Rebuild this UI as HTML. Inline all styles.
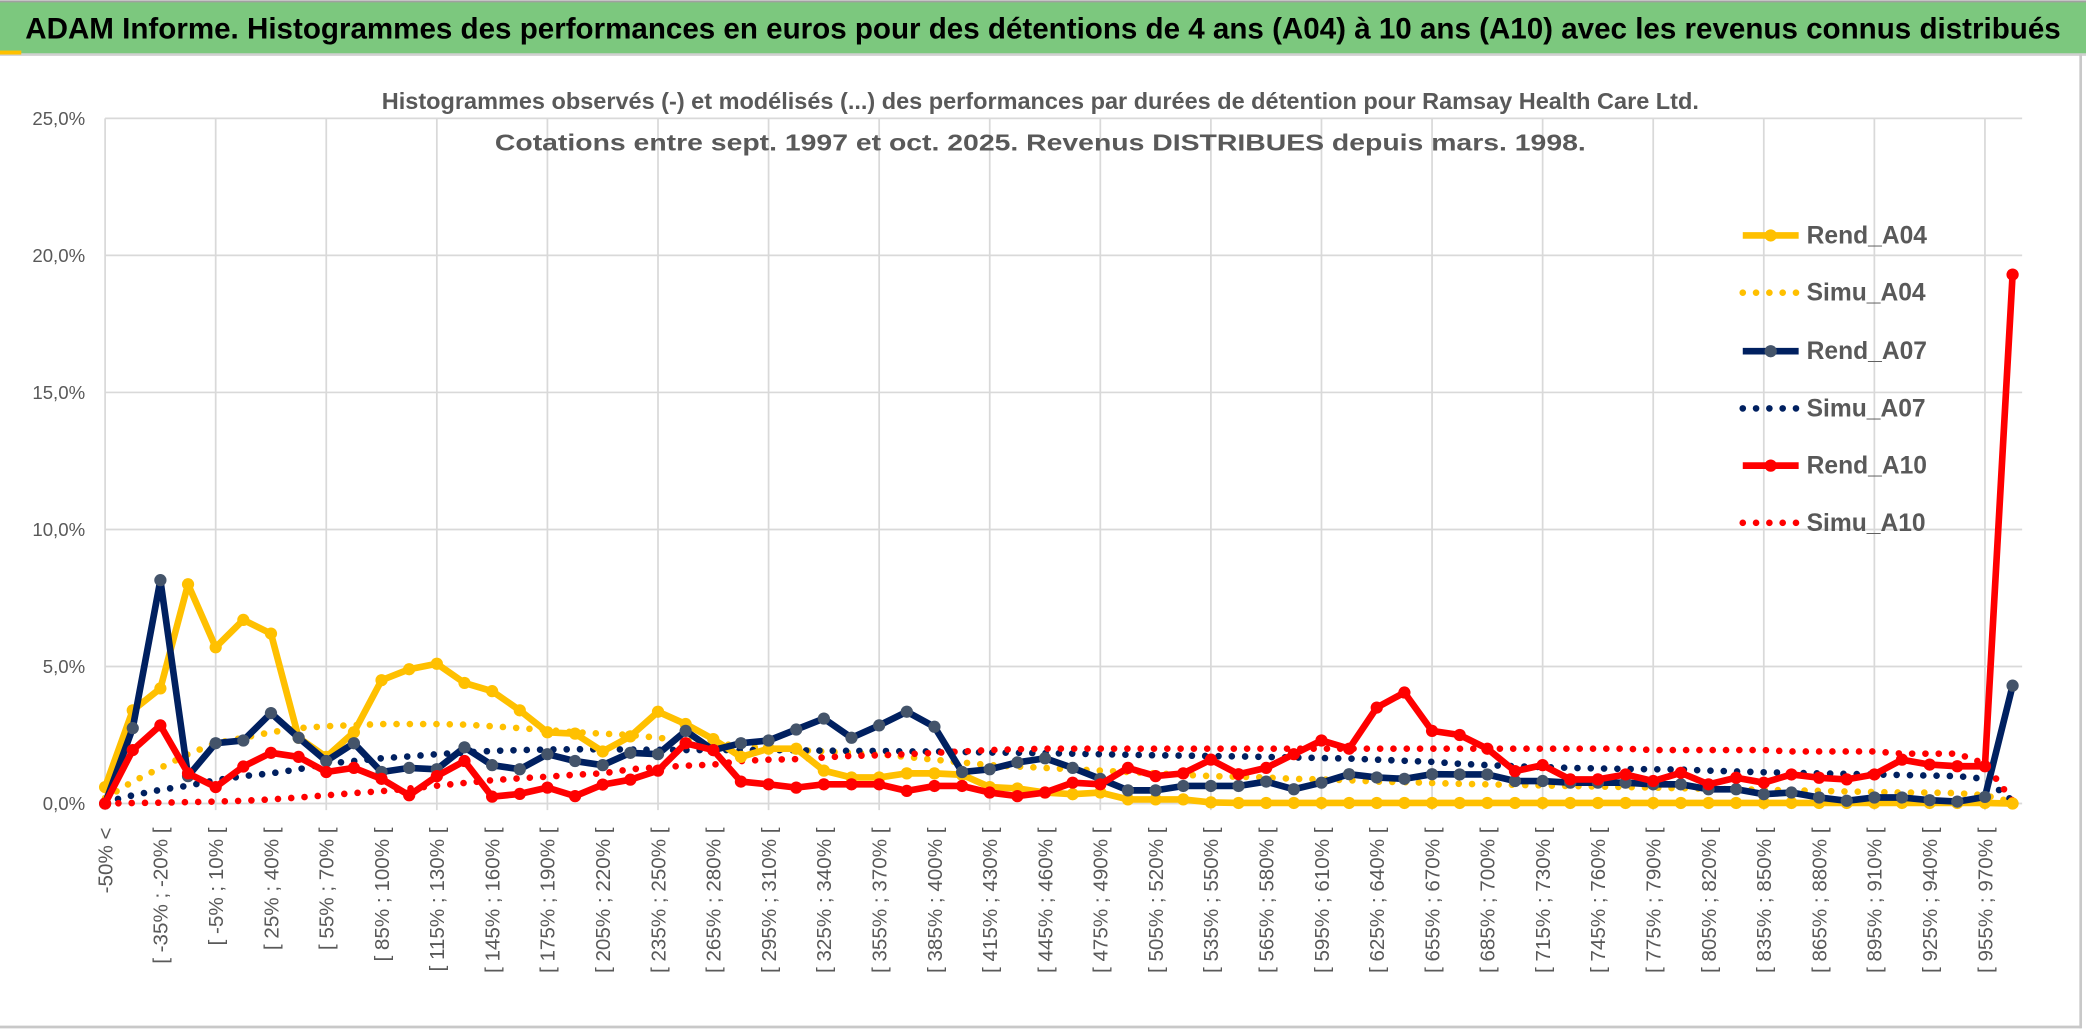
<!DOCTYPE html>
<html><head><meta charset="utf-8"><style>
html,body{margin:0;padding:0;background:#fff;}
svg{display:block;}
text{font-family:"Liberation Sans Narrow","Liberation Sans",sans-serif;}
</style></head><body>
<svg id="chart" width="2086" height="1033" viewBox="0 0 1568 776.5" preserveAspectRatio="none" xmlns="http://www.w3.org/2000/svg">
<rect x="0" y="0" width="1568" height="776.5" fill="#fff"/>
<rect x="0" y="1" width="1568" height="40" fill="#7cc87e"/>
<line x1="0" y1="1" x2="1568" y2="1" stroke="#a0a0a0" stroke-width="1.5"/>
<line x1="0" y1="41" x2="1568" y2="41" stroke="#d0d0d0" stroke-width="2"/>
<rect x="0" y="38" width="16" height="3" fill="#ffc000"/>
<text x="19" y="29" font-size="22" font-weight="bold" fill="#000" textLength="1530" lengthAdjust="spacingAndGlyphs">ADAM Informe. Histogrammes des performances en euros pour des détentions de 4 ans (A04) à 10 ans (A10) avec les revenus connus distribués</text>
<line x1="1564" y1="41" x2="1564" y2="773" stroke="#c8c8c8" stroke-width="2"/>
<line x1="0" y1="772" x2="1564" y2="772" stroke="#c8c8c8" stroke-width="2"/>
<g id="grid"></g>
<g id="ylabels"></g>
<g id="xlabels"></g>
<text x="782" y="82" font-size="17.5" font-weight="bold" fill="#595959" text-anchor="middle" textLength="990" lengthAdjust="spacingAndGlyphs">Histogrammes observés (-) et modélisés (...) des performances par durées de détention pour Ramsay Health Care Ltd.</text>
<text x="782" y="113" font-size="17.5" font-weight="bold" fill="#595959" text-anchor="middle" textLength="820" lengthAdjust="spacingAndGlyphs">Cotations entre sept. 1997 et oct. 2025. Revenus DISTRIBUES depuis mars. 1998.</text>
<g id="series"></g>
<g id="legend"></g>
</svg>
<script>
const categories = [];
for (let i = 0; i < 70; i++) {
  if (i === 0) categories.push("-50% <");
  else { const lo = -50 + 15 * (i - 1); categories.push("[ " + lo + "% ; " + (lo + 15) + "% ["); }
}
const yTicks = [0, 5, 10, 15, 20, 25];
const yTickLabels = ["0,0%", "5,0%", "10,0%", "15,0%", "20,0%", "25,0%"];
const rendA04 = [0.6,3.4,4.2,8.0,5.7,6.7,6.2,2.4,1.7,2.6,4.5,4.9,5.1,4.4,4.1,3.4,2.6,2.55,1.9,2.45,3.35,2.9,2.35,1.7,2.0,2.0,1.2,0.95,0.95,1.1,1.1,1.05,0.6,0.55,0.4,0.34,0.4,0.15,0.15,0.15,0.04,0.02,0.02,0.02,0.02,0.02,0.02,0.02,0.02,0.02,0.02,0.02,0.02,0.02,0.02,0.02,0.02,0.02,0.02,0.02,0.02,0.02,0.02,0.02,0.02,0.02,0.02,0.02,0.02,0.0];
const simuA04 = [0.2,0.8,1.3,1.8,2.2,2.4,2.6,2.75,2.82,2.86,2.9,2.9,2.9,2.88,2.82,2.75,2.68,2.6,2.55,2.5,2.4,2.3,2.2,2.1,2.0,1.95,1.9,1.85,1.8,1.7,1.6,1.5,1.4,1.35,1.3,1.25,1.2,1.15,1.1,1.05,1.0,0.98,0.95,0.9,0.88,0.85,0.8,0.78,0.75,0.72,0.7,0.68,0.66,0.64,0.62,0.6,0.58,0.56,0.54,0.52,0.5,0.48,0.46,0.44,0.42,0.4,0.4,0.38,0.3,0.05];
const rendA07 = [0,2.75,8.15,1.0,2.2,2.3,3.3,2.4,1.55,2.2,1.15,1.3,1.25,2.05,1.4,1.25,1.8,1.55,1.4,1.85,1.8,2.65,1.95,2.2,2.3,2.7,3.1,2.4,2.85,3.35,2.8,1.15,1.25,1.5,1.65,1.3,0.9,0.48,0.48,0.64,0.64,0.64,0.8,0.52,0.76,1.07,0.95,0.9,1.07,1.06,1.06,0.82,0.82,0.76,0.76,0.76,0.7,0.7,0.52,0.52,0.34,0.4,0.22,0.1,0.22,0.22,0.12,0.07,0.24,4.3];
const simuA07 = [0.05,0.3,0.5,0.65,0.85,1.0,1.1,1.25,1.45,1.55,1.65,1.72,1.8,1.86,1.92,1.95,1.97,1.98,1.98,1.97,1.96,1.95,1.95,1.95,1.95,1.94,1.93,1.92,1.92,1.9,1.9,1.88,1.86,1.85,1.84,1.82,1.8,1.78,1.76,1.75,1.73,1.72,1.7,1.68,1.66,1.64,1.6,1.56,1.52,1.45,1.4,1.36,1.33,1.3,1.28,1.26,1.25,1.24,1.2,1.17,1.14,1.12,1.1,1.08,1.06,1.04,1.02,1.0,0.9,0.1];
const rendA10 = [0,1.95,2.85,1.1,0.6,1.35,1.85,1.7,1.15,1.3,0.9,0.3,1.0,1.55,0.25,0.35,0.58,0.27,0.69,0.87,1.2,2.2,1.95,0.8,0.7,0.58,0.7,0.7,0.7,0.46,0.64,0.64,0.4,0.27,0.4,0.76,0.7,1.3,1.0,1.1,1.6,1.07,1.3,1.8,2.3,2.0,3.5,4.05,2.65,2.5,2.0,1.18,1.4,0.88,0.88,1.06,0.82,1.12,0.7,0.94,0.76,1.06,0.94,0.88,1.06,1.6,1.42,1.36,1.36,19.3];
const simuA10 = [0,0.02,0.03,0.05,0.07,0.1,0.15,0.22,0.3,0.38,0.45,0.55,0.65,0.75,0.85,0.92,0.98,1.05,1.1,1.25,1.32,1.38,1.42,1.55,1.6,1.62,1.68,1.74,1.76,1.8,1.85,1.9,1.95,1.98,2.0,2.0,2.0,2.0,2.0,2.0,2.0,2.0,2.0,2.0,2.0,2.0,2.0,2.0,2.0,2.0,2.0,2.0,2.0,2.0,2.0,2.0,1.95,1.95,1.95,1.95,1.95,1.9,1.9,1.9,1.9,1.82,1.82,1.82,1.45,0.1];
const seriesNames = ["Rend_A04","Simu_A04","Rend_A07","Simu_A07","Rend_A10","Simu_A10"];

const NS = "http://www.w3.org/2000/svg";
const X0 = 79, DX = 20.78, Y0 = 604, Y25 = 89;
function xPos(i) { return X0 + i * DX; }
function yPos(v) { return Y0 - (v / 25) * (Y0 - Y25); }
function mk(tag, attrs, parent) {
  const e = document.createElementNS(NS, tag);
  for (const k in attrs) e.setAttribute(k, attrs[k]);
  parent.appendChild(e); return e;
}
const grid = document.getElementById("grid");
const PL = 79, PR = 1520;
yTicks.forEach((t, k) => {
  const l = mk("line", {x1: PL, x2: PR, y1: yPos(t), y2: yPos(t), stroke: "#d9d9d9", "stroke-width": 1.3}, grid);
  
  
  const tx = mk("text", {x: 64, y: yPos(t) + 5, "font-size": 14, fill: "#595959", "text-anchor": "end"}, document.getElementById("ylabels"));
  tx.textContent = yTickLabels[k];
  
  
});
for (let i = 0; i < categories.length; i += 4) {
  const l = mk("line", {x1: xPos(i), x2: xPos(i), y1: Y25, y2: Y0 + 5, stroke: "#d9d9d9", "stroke-width": 1.3}, grid);
  
  
}
const xl = document.getElementById("xlabels");
categories.forEach((c, i) => {
  if (i % 2) return;
  const x = xPos(i) + 5.5, y = 622;
  const t = mk("text", {x: x, y: y, "font-size": 15.5, fill: "#595959", "text-anchor": "end", transform: "rotate(-90 " + x + " " + y + ")"}, xl);
  t.textContent = c;
  
  
});
const sg = document.getElementById("series");
function dotted(data, color, name) {
  const p = mk("polyline", {points: data.map((v, i) => xPos(i) + "," + yPos(v)).join(" "), fill: "none", stroke: color, "stroke-width": 5, "stroke-linecap": "round", "stroke-dasharray": "0 10"}, sg);
  
  
}
function solid(data, color, mcolor, name) {
  const p = mk("polyline", {points: data.map((v, i) => xPos(i) + "," + yPos(v)).join(" "), fill: "none", stroke: color, "stroke-width": 5, "stroke-linejoin": "round"}, sg);
  
  
  data.forEach((v, i) => {
    const c = mk("circle", {cx: xPos(i), cy: yPos(v), r: 4.6, fill: mcolor}, sg);
    
    
  });
}
dotted(simuA04, "#ffc000", "simu-a04-line");
dotted(simuA07, "#002060", "simu-a07-line");
dotted(simuA10, "#ff0000", "simu-a10-line");
solid(rendA04, "#ffc000", "#ffc000", "rend-a04-line");
solid(rendA07, "#002060", "#44546a", "rend-a07-line");
solid(rendA10, "#ff0000", "#ff0000", "rend-a10-line");

const lg = document.getElementById("legend");
const legColors = ["#ffc000","#ffc000","#002060","#002060","#ff0000","#ff0000"];
const legMarker = ["#ffc000",null,"#44546a",null,"#ff0000",null];
const legY = [177, 220, 264, 307, 350, 393];
seriesNames.forEach((n, k) => {
  const y = legY[k];
  const l = mk("line", {x1: 1310, x2: 1352, y1: y, y2: y, stroke: legColors[k], "stroke-width": 5, "stroke-linecap": legMarker[k] ? "butt" : "round", "stroke-dasharray": legMarker[k] ? "none" : "0 10"}, lg);
  
  
  if (legMarker[k]) {
    const c = mk("circle", {cx: 1331, cy: y, r: 4.6, fill: legMarker[k]}, lg);
    
    
  }
  const t = mk("text", {x: 1358, y: y + 6, "font-size": 18.5, "font-weight": "bold", fill: "#595959"}, lg);
  t.textContent = n;
  
  
});
</script>
</body></html>
